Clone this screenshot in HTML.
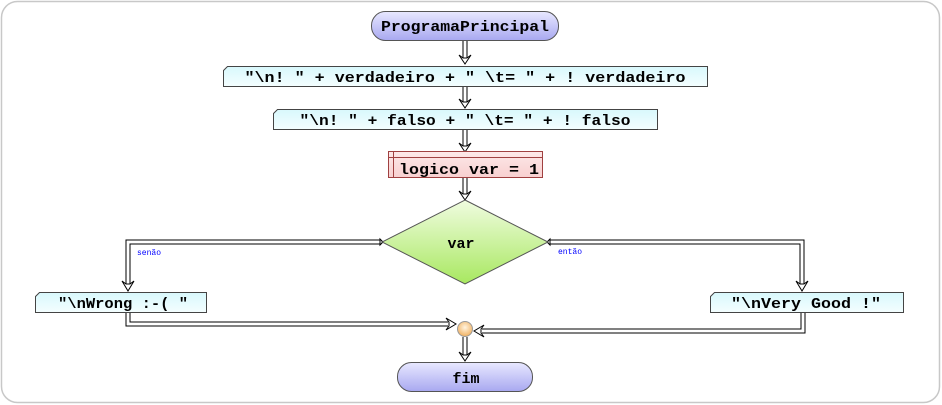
<!DOCTYPE html>
<html><head><style>
html,body{margin:0;padding:0;background:#fff;}
svg{display:block;}
text{font-family:"Liberation Mono",monospace;font-weight:bold;font-size:15px;fill:#000;}
.lbl{font-size:8px;fill:#00f;font-weight:normal;}
</style></head><body>
<svg width="942" height="405" viewBox="0 0 942 405" xmlns="http://www.w3.org/2000/svg">
<defs>
<linearGradient id="pill" x1="0" y1="0" x2="0" y2="1"><stop offset="0" stop-color="#e8e8ff"/><stop offset="1" stop-color="#a8a8f0"/></linearGradient>
<linearGradient id="cyan" x1="0" y1="0" x2="0" y2="1"><stop offset="0" stop-color="#d8f8fc"/><stop offset="1" stop-color="#f4feff"/></linearGradient>
<linearGradient id="pink" x1="0" y1="0" x2="0" y2="1"><stop offset="0" stop-color="#fde8e8"/><stop offset="1" stop-color="#f8d0d0"/></linearGradient>
<linearGradient id="green" x1="0" y1="0" x2="0" y2="1"><stop offset="0" stop-color="#f0fce0"/><stop offset="1" stop-color="#a8e860"/></linearGradient>
<radialGradient id="orange" cx="0.5" cy="0.4" r="0.6"><stop offset="0" stop-color="#fff4e0"/><stop offset="1" stop-color="#f0b060"/></radialGradient>
</defs>
<rect x="1.5" y="1.5" width="938" height="401" rx="16" fill="#fff" stroke="#c8c8c8" stroke-width="1.5"/>

<g fill="none" stroke-linejoin="miter">
<g stroke="#000" stroke-width="5">
<path d="M465 41V58"/><path d="M465 87V102"/><path d="M465 130V146"/><path d="M465 178V194"/>
<path d="M380 242H128V285"/>
<path d="M550 242H802V285"/>
<path d="M128 312V324H448"/>
<path d="M803 313V331H482"/>
<path d="M465 337V355"/>
</g>
<g stroke="#fff" stroke-width="3">
<path d="M465 41V60"/><path d="M465 87V104"/><path d="M465 130V148"/><path d="M465 178V196"/>
<path d="M380 242H128V287"/>
<path d="M550 242H802V287"/>
<path d="M128 312V324H450"/>
<path d="M803 313V331H480"/>
<path d="M465 337V357"/>
</g>
</g>
<g fill="#fff" stroke="#000" stroke-width="1">
<path d="M459 55L465 64L471 55L467 58L463 58Z"/>
<path d="M459 99L465 108L471 99L467 102L463 102Z"/>
<path d="M459 143L465 152L471 143L467 146L463 146Z"/>
<path d="M459 191L465 200L471 191L467 194L463 194Z"/>
<path d="M122 281L128 291L134 281L130 284L126 284Z"/>
<path d="M796 281L802 291L808 281L804 284L800 284Z"/>
<path d="M459 352L465 361L471 352L467 355L463 355Z"/>
<path d="M446 318L456 324L446 330L449 326L449 322Z"/>
<path d="M484 325L474 331L484 337L481 333L481 329Z"/>
<path d="M380 239L383 242L380 245Z"/>
<path d="M550 239L547 242L550 245Z"/>
</g>

<rect x="371.5" y="11.5" width="187" height="29" rx="14" fill="url(#pill)" stroke="#555"/>
<text x="465" y="31" text-anchor="middle" textLength="168" lengthAdjust="spacingAndGlyphs">ProgramaPrincipal</text>

<path d="M227.5 66.5H707.5V86.5H223.5V70.5Z" fill="url(#cyan)" stroke="#444"/>
<text x="465" y="82" text-anchor="middle" textLength="441" lengthAdjust="spacingAndGlyphs">"\n! " + verdadeiro + " \t= " + ! verdadeiro</text>

<path d="M277.5 109.5H657.5V129.5H273.5V113.5Z" fill="url(#cyan)" stroke="#444"/>
<text x="465" y="125" text-anchor="middle" textLength="331" lengthAdjust="spacingAndGlyphs">"\n! " + falso + " \t= " + ! falso</text>

<rect x="388.5" y="151.5" width="154" height="26" fill="url(#pink)" stroke="#a04040"/>
<path d="M393.5 151.5V177.5M388.5 157.5H542.5" stroke="#a04040" fill="none"/>
<text x="469" y="174" text-anchor="middle" textLength="140" lengthAdjust="spacingAndGlyphs">logico var = 1</text>

<path d="M465 200L548 242L465 284L382 242Z" fill="url(#green)" stroke="#555"/>
<text x="461" y="248" text-anchor="middle">var</text>
<text class="lbl" x="137" y="255">senão</text>
<text class="lbl" x="558" y="254">então</text>

<path d="M39.5 292.5H206.5V312.5H35.5V296.5Z" fill="url(#cyan)" stroke="#444"/>
<text x="123" y="308" text-anchor="middle" textLength="130" lengthAdjust="spacingAndGlyphs">"\nWrong :-( "</text>

<path d="M714.5 292.5H903.5V312.5H710.5V296.5Z" fill="url(#cyan)" stroke="#444"/>
<text x="806" y="308" text-anchor="middle" textLength="150" lengthAdjust="spacingAndGlyphs">"\nVery Good !"</text>

<circle cx="465" cy="329" r="7.5" fill="url(#orange)" stroke="#999"/>

<rect x="397.5" y="362.5" width="135" height="29" rx="14" fill="url(#pill)" stroke="#555"/>
<text x="466" y="383" text-anchor="middle">fim</text>
</svg>
</body></html>
